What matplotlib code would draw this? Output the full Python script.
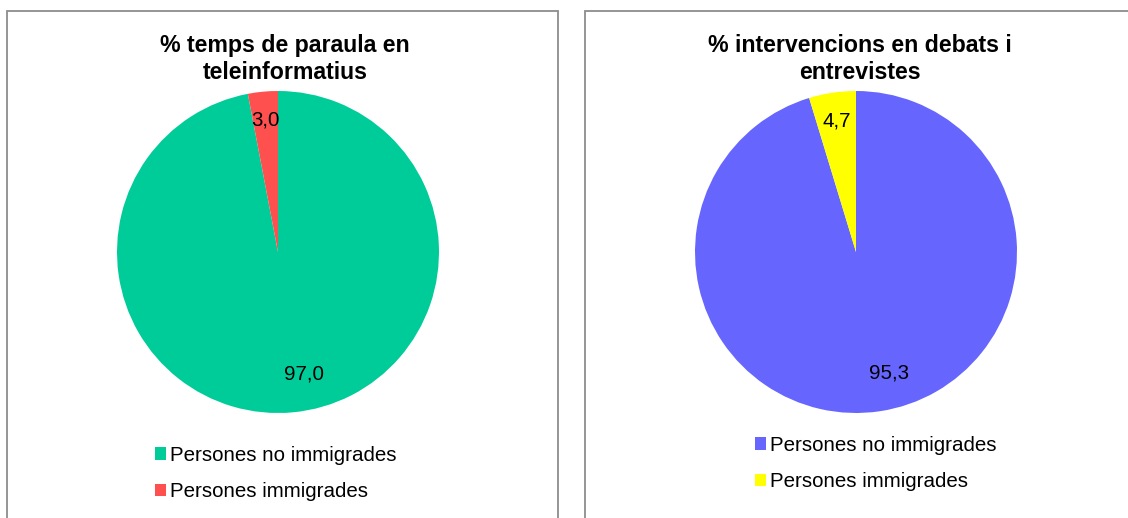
import matplotlib
matplotlib.use("Agg")
import matplotlib.pyplot as plt
from matplotlib.patches import Rectangle
from matplotlib.transforms import offset_copy

plt.rcParams["font.family"] = ["Liberation Sans", "DejaVu Sans"]

categories = ["Persones no immigrades", "Persones immigrades"]
temps_paraula = [97.0, 3.0]
intervencions = [95.3, 4.7]
titols = ["% temps de paraula en\nteleinformatius", "% intervencions en debats i\nentrevistes"]
colors_esq = ["#00CC99", "#FF5050"]
colors_dre = ["#6666FF", "#FFFF00"]

W, H = 1128, 518


def fx(px):
    return px / W


def fy(py):
    return 1 - py / H


def etiqueta(pct):
    return f"{pct:.1f}".replace(".", ",")


fig = plt.figure(figsize=(W / 100, H / 100), dpi=100)

panells = [
    dict(valors=temps_paraula, colors=colors_esq, titol=titols[0],
         caixa=(7, 558), cx=278, tx=285, leg_x=155, leg_y=473.5),
    dict(valors=intervencions, colors=colors_dre, titol=titols[1],
         caixa=(585, 1135), cx=856, tx=860, leg_x=755, leg_y=463.5),
]

radi = 161
cy = 252

for p in panells:
    x0, x1 = p["caixa"]
    fig.patches.append(Rectangle((fx(x0), fy(530)), fx(x1 - x0), (530 - 10.5) / H,
                                 transform=fig.transFigure, fill=False,
                                 edgecolor="#8c8c8c", linewidth=1.3))

    ax = fig.add_axes([fx(p["cx"] - radi), fy(cy + radi), fx(2 * radi), 2 * radi / H])
    wedges, _, autotexts = ax.pie(p["valors"], colors=p["colors"], startangle=90,
                                  counterclock=False, autopct=etiqueta,
                                  pctdistance=0.8, radius=1,
                                  textprops=dict(fontsize=14.8, color="black"))
    # petit desplaçament de les etiquetes com a l'original
    autotexts[0].set_transform(offset_copy(ax.transData, fig=fig, x=14, y=6, units="dots"))
    autotexts[1].set_transform(offset_copy(ax.transData, fig=fig, x=0, y=4, units="dots"))
    ax.set_xlim(-1, 1)
    ax.set_ylim(-1, 1)
    ax.set_aspect("equal")
    ax.axis("off")

    fig.text(fx(p["tx"]), fy(34), p["titol"], ha="center", va="top",
             fontsize=16.7, fontweight="bold", linespacing=1.2)

    fig.legend(wedges, categories, loc="center left",
               bbox_to_anchor=(fx(p["leg_x"]), fy(p["leg_y"])),
               frameon=False, fontsize=14.8, borderpad=0, borderaxespad=0,
               handlelength=0.55, handleheight=0.55, handletextpad=0.2,
               labelspacing=0.85)

fig.savefig("out.png", dpi=100)
